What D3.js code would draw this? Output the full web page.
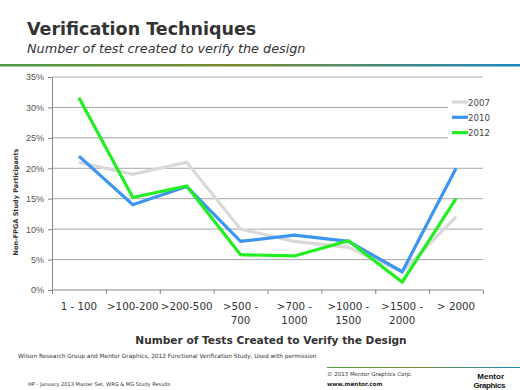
<!DOCTYPE html>
<html>
<head>
<meta charset="utf-8">
<script src="https://cdn.jsdelivr.net/npm/d3@7/dist/d3.min.js"></script>
<style>
  body { margin: 0; background: #fff; }
  svg { display: block; font-family: "DejaVu Sans", Verdana, sans-serif; }
</style>
</head>
<body>
<div id="chart"></div>
<script>
const categories = ['1 - 100', '>100-200', '>200-500', '>500 -\n700', '>700 -\n1000', '>1000 -\n1500', '>1500 -\n2000', '> 2000'];
const years = ['2007', '2010', '2012'];
const values2007 = [21, 19, 21, 10, 8, 7, 3, 12];
const values2010 = [22, 14, 17, 8, 9, 8, 3, 20];
const values2012 = [31.6, 15.2, 17.1, 5.8, 5.6, 8.1, 1.3, 15];
const yTicks = [0, 5, 10, 15, 20, 25, 30, 35];
const colors = ['#d9d9d9', '#3d95f2', '#22ee22'];

const series = [values2007, values2010, values2012].map((v, i) => ({ year: years[i], values: v, color: colors[i] }));

const W = 520;
const H = 390;
const margin = { top: 77, right: 37, bottom: 100, left: 52 };
const width = W - margin.left - margin.right;
const height = H - margin.top - margin.bottom;

const svg = d3.select('#chart').append('svg')
  .attr('width', W)
  .attr('height', H);

// header
const defs = svg.append('defs');
const grad = defs.append('linearGradient').attr('id', 'hdr');
grad.append('stop').attr('offset', '0%').attr('stop-color', '#4f9a45');
grad.append('stop').attr('offset', '45%').attr('stop-color', '#7a8a30');
grad.append('stop').attr('offset', '100%').attr('stop-color', '#1a88c0');

svg.append('text')
  .attr('x', 27).attr('y', 35)
  .attr('font-size', 17.5).attr('font-weight', 'bold').attr('fill', '#333')
  .text('Verification Techniques');
svg.append('text')
  .attr('x', 27).attr('y', 53)
  .attr('font-size', 12.8).attr('font-style', 'italic').attr('fill', '#333')
  .text('Number of test created to verify the design');
svg.append('rect')
  .attr('x', 0).attr('y', 64).attr('width', W).attr('height', 2.5)
  .attr('fill', 'url(#hdr)');

const g = svg.append('g').attr('transform', `translate(${margin.left},${margin.top})`);

const x = d3.scaleBand().domain(categories).range([0, width]);
const y = d3.scaleLinear().domain([0, 35]).range([height, 0]);

// grid
g.append('g')
  .selectAll('line')
  .data(yTicks.filter(d => d > 0))
  .join('line')
  .attr('x1', 0).attr('x2', width)
  .attr('y1', d => y(d)).attr('y2', d => y(d))
  .attr('stroke', '#a6a6a6').attr('stroke-width', 1);

// y axis
const yAxis = g.append('g')
  .call(d3.axisLeft(y).tickValues(yTicks).tickFormat(d => `${d}%`).tickSize(4).tickPadding(4));
yAxis.select('.domain').attr('stroke', '#888');
yAxis.selectAll('.tick line').attr('stroke', '#888');
yAxis.selectAll('text').attr('font-size', 9).attr('fill', '#555');

// x axis
const xAxis = g.append('g').attr('transform', `translate(0,${height})`);
xAxis.append('line')
  .attr('x1', 0).attr('x2', width)
  .attr('stroke', '#888');
xAxis.selectAll('.xt')
  .data(d3.range(categories.length + 1))
  .join('line')
  .attr('class', 'xt')
  .attr('x1', i => (i < categories.length ? x(categories[i]) : width) + 0.5)
  .attr('x2', i => (i < categories.length ? x(categories[i]) : width) + 0.5)
  .attr('y1', 0).attr('y2', 4)
  .attr('stroke', '#888');
const xLabels = xAxis.selectAll('.xl')
  .data(categories)
  .join('text')
  .attr('class', 'xl')
  .attr('text-anchor', 'middle')
  .attr('font-size', 10.3)
  .attr('fill', '#333')
  .attr('transform', d => `translate(${x(d) + x.bandwidth() / 2},20)`);
xLabels.selectAll('tspan')
  .data(d => d.split('\n'))
  .join('tspan')
  .attr('x', 0)
  .attr('y', (d, i) => i * 14)
  .text(d => d);

// axis titles
svg.append('text')
  .attr('x', 271).attr('y', 344)
  .attr('text-anchor', 'middle')
  .attr('font-size', 10.6).attr('font-weight', 'bold').attr('fill', '#333')
  .text('Number of Tests Created to Verify the Design');
svg.append('text')
  .attr('transform', 'translate(18,202) rotate(-90)')
  .attr('text-anchor', 'middle')
  .attr('font-size', 6.5).attr('font-weight', 'bold').attr('fill', '#333')
  .text('Non-FPGA  Study Participants');

// lines
const line = d3.line()
  .x((d, i) => x(categories[i]) + x.bandwidth() / 2)
  .y(d => y(d));

g.append('g')
  .selectAll('path')
  .data(series)
  .join('path')
  .attr('d', d => line(d.values))
  .attr('fill', 'none')
  .attr('stroke', d => d.color)
  .attr('stroke-width', 3.2)
  .attr('stroke-linejoin', 'miter');

// legend
const legend = svg.append('g').attr('transform', 'translate(448,94)');
legend.append('rect')
  .attr('x', 0).attr('y', 0).attr('width', 42).attr('height', 46)
  .attr('fill', '#fff');
const li = legend.selectAll('.li')
  .data(series)
  .join('g')
  .attr('class', 'li')
  .attr('transform', (d, i) => `translate(4,${8 + i * 15.3})`);
li.append('line')
  .attr('x1', 0).attr('x2', 16)
  .attr('stroke', d => d.color).attr('stroke-width', 3.2);
li.append('text')
  .attr('x', 16).attr('y', 3.5)
  .attr('font-size', 8.6).attr('fill', '#444')
  .text(d => d.year);

// footer
svg.append('text')
  .attr('x', 18).attr('y', 358)
  .attr('font-size', 5.8).attr('fill', '#333')
  .text('Wilson Research Group and Mentor Graphics, 2012 Functional Verification Study,    Used with permission');
svg.append('text')
  .attr('x', 28).attr('y', 386)
  .attr('font-size', 5.1).attr('fill', '#333')
  .text('HP - January 2013 Master Set, WRG & MG Study Results');
svg.append('rect')
  .attr('x', 327).attr('y', 367).attr('width', W - 327).attr('height', 1)
  .attr('fill', 'url(#hdr)');
svg.append('text')
  .attr('x', 327).attr('y', 376)
  .attr('font-size', 5.5).attr('fill', '#333')
  .text('\u00a9 2013 Mentor Graphics Corp.');
svg.append('text')
  .attr('x', 327).attr('y', 386)
  .attr('font-size', 5.7).attr('font-weight', 'bold').attr('fill', '#222')
  .text('www.mentor.com');
const logo = svg.append('g').attr('font-family', '"Liberation Sans Narrow", "Liberation Sans", sans-serif')
  .attr('font-weight', 'bold').attr('fill', '#111');
logo.append('text').attr('x', 504).attr('y', 379).attr('text-anchor', 'end')
  .attr('font-size', 8).text('Mentor');
logo.append('text').attr('x', 505).attr('y', 388).attr('text-anchor', 'end')
  .attr('font-size', 8).attr('letter-spacing', -0.4).text('Graphics');
</script>
</body>
</html>
